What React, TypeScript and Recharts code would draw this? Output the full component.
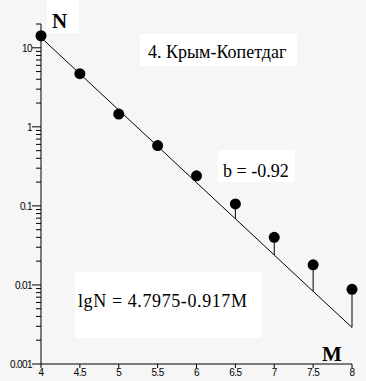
import React from 'react';
import { ComposedChart, XAxis, YAxis, Line, Scatter, ReferenceLine } from 'recharts';

// magnitude classes and cumulative counts N (log scale)
const magnitudes = [4, 4.5, 5, 5.5, 6, 6.5, 7, 7.5, 8];
const observedN = [14.2, 4.7, 1.45, 0.58, 0.24, 0.106, 0.04, 0.018, 0.0088];
// lgN = 4.7975 - 0.917M, read at each M
const fittedN = [13.5, 4.69, 1.63, 0.568, 0.197, 0.0687, 0.0239, 0.0083, 0.0029];

const xTicks = [4, 4.5, 5, 5.5, 6, 6.5, 7, 7.5, 8];
const majorYTicks = [0.001, 0.01, 0.1, 1, 10];
const yTickLabels = ['0.001', '0.01', '0.1', '1', '10'];
const minorSteps = [2, 3, 4, 5, 6, 7, 8, 9];

const yTicks = [
  ...majorYTicks,
  ...majorYTicks.flatMap((d) => minorSteps.map((s) => d * s)).filter((v) => v <= 20),
].sort((a, b) => a - b);

const data = magnitudes.map((m, i) => ({ m, obs: observedN[i], fit: fittedN[i] }));
const stems = data.filter((d) => d.obs / d.fit > 1.3);

const tickFont = '"Liberation Sans", Arial, sans-serif';
const serif = '"Liberation Serif", "Times New Roman", serif';
const serifText = { fontFamily: serif };

const YTick = (props: any) => {
  const { x, y, payload } = props;
  const idx = majorYTicks.indexOf(payload.value);
  const major = idx >= 0;
  return (
    <g>
      <line x1={x - (major ? 9 : 5)} x2={x} y1={y} y2={y} stroke="#000" />
      {major && (
        <text
          x={x - 9}
          y={y}
          dy={4}
          textAnchor="end"
          fontSize={10}
          style={{ fontFamily: tickFont }}
          letterSpacing={-0.6}
          fill="#000"
        >
          {yTickLabels[idx]}
        </text>
      )}
    </g>
  );
};

const Dot = (props: any) => {
  const { cx, cy } = props;
  return <circle cx={cx} cy={cy} r={5.5} fill="#000" />;
};

const App = () => {
  return (
    <div style={{ position: 'absolute', left: 0, top: 0, width: 366, height: 381, background: '#f6f6f6' }}>
      <ComposedChart width={366} height={381} data={data} margin={{ top: 24, right: 14, bottom: 0, left: 0 }}>
        <XAxis
          dataKey="m"
          type="number"
          domain={[4, 8]}
          ticks={xTicks}
          interval={0}
          height={17}
          tickSize={4}
          tickMargin={1}
          axisLine={{ stroke: '#000' }}
          tickLine={{ stroke: '#000' }}
          tick={{ fontSize: 10, fontFamily: tickFont, fill: '#000', letterSpacing: -0.5 }}
        />
        <YAxis
          type="number"
          scale="log"
          domain={[0.001, 20]}
          allowDataOverflow
          ticks={yTicks}
          interval={0}
          width={41}
          tickSize={0}
          tickMargin={0}
          tickLine={false}
          axisLine={{ stroke: '#000' }}
          tick={<YTick />}
        />
        <Line
          dataKey="fit"
          type="linear"
          stroke="#000"
          strokeWidth={1}
          dot={false}
          activeDot={false}
          isAnimationActive={false}
        />
        {stems.map((d) => (
          <ReferenceLine
            key={d.m}
            segment={[
              { x: d.m, y: d.obs },
              { x: d.m, y: d.fit },
            ]}
            stroke="#000"
            strokeWidth={1}
          />
        ))}
        <Scatter dataKey="obs" fill="#000" shape={<Dot />} isAnimationActive={false} />
      </ComposedChart>
      <svg
        width={366}
        height={381}
        style={{ position: 'absolute', left: 0, top: 0, pointerEvents: 'none' }}
      >
        <rect x={47} y={0} width={32} height={33} fill="#fff" />
        <rect x={140} y={34} width={157} height={32} fill="#fff" />
        <rect x={218} y={150} width={77} height={32} fill="#fff" />
        <rect x={75} y={272} width={187} height={66} fill="#fff" />
        <text x={52} y={28} fontSize={21} fontWeight="bold" style={serifText} fill="#000">
          N
        </text>
        <text x={148} y={58} fontSize={18} style={serifText} fill="#000">
          4. Крым-Копетдаг
        </text>
        <text x={223} y={177} fontSize={18} style={serifText} fill="#000">
          b = -0.92
        </text>
        <text x={78} y={307} fontSize={18} letterSpacing={0.6} style={serifText} fill="#000">
          lgN = 4.7975-0.917M
        </text>
        <text x={322} y={361} fontSize={21} fontWeight="bold" style={serifText} fill="#000">
          M
        </text>
      </svg>
    </div>
  );
};

export default App;
